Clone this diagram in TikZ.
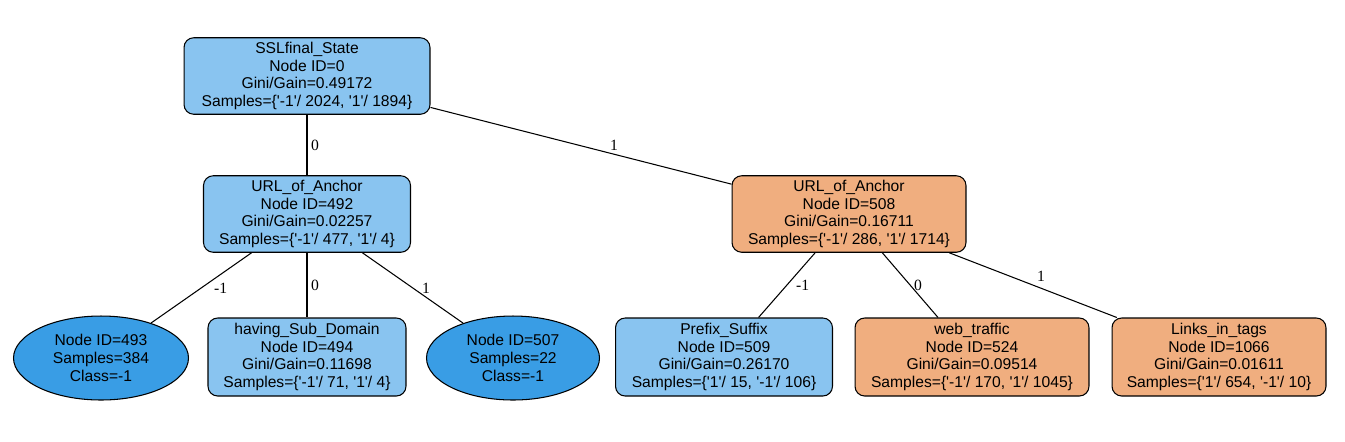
\documentclass[tikz,border=0pt]{standalone}
\usepackage{fontspec}
\newfontfamily\nodefont{Liberation Sans}
\newfontfamily\edgefont{Liberation Serif}
\usepackage{xcolor}
\definecolor{splitblue}{HTML}{89C4F0}
\definecolor{leafblue}{HTML}{399DE5}
\definecolor{splitorange}{HTML}{F0AE7F}
\usepackage{tikz}
\usetikzlibrary{shapes.geometric, positioning}

\begin{document}
\begin{tikzpicture}[x=0.02cm, y=-0.02cm,
  every node/.style={font=\nodefont\fontsize{8.9}{10.1}\selectfont, align=center},
  splitbox/.style={draw, line width=0.6pt, rounded corners=5.5pt, minimum height=1.53cm, inner sep=2pt},
  leafoval/.style={draw, line width=0.6pt, ellipse, fill=leafblue, minimum width=3.5cm, minimum height=1.68cm, inner sep=0pt},
  edgelab/.style={font=\edgefont\fontsize{8.9}{10}\selectfont, inner sep=2pt},
  branch/.style={line width=0.6pt}]

  \useasboundingbox (0,0) rectangle (1345,441);

  % Root
  \node[splitbox, fill=splitblue, minimum width=4.92cm] (root) at (307,76)
    {SSLfinal\_State\\Node ID=0\\Gini/Gain=0.49172\\Samples=\{'-1'/ 2024, '1'/ 1894\}};

  % Second level
  \node[splitbox, fill=splitblue, minimum width=4.14cm] (n492) at (307,214)
    {URL\_of\_Anchor\\Node ID=492\\Gini/Gain=0.02257\\Samples=\{'-1'/ 477, '1'/ 4\}};
  \node[splitbox, fill=splitorange, minimum width=4.68cm] (n508) at (849,214)
    {URL\_of\_Anchor\\Node ID=508\\Gini/Gain=0.16711\\Samples=\{'-1'/ 286, '1'/ 1714\}};

  % Third level, left
  \node[leafoval] (n493) at (101,358) {Node ID=493\\Samples=384\\Class=-1};
  \node[splitbox, fill=splitblue, minimum width=3.96cm, minimum height=1.56cm] (n494) at (307,357)
    {having\_Sub\_Domain\\Node ID=494\\Gini/Gain=0.11698\\Samples=\{'-1'/ 71, '1'/ 4\}};
  \node[leafoval, minimum width=3.46cm] (n507) at (513,358) {Node ID=507\\Samples=22\\Class=-1};

  % Third level, right
  \node[splitbox, fill=splitblue, minimum width=4.34cm, minimum height=1.56cm] (n509) at (724,357)
    {Prefix\_Suffix\\Node ID=509\\Gini/Gain=0.26170\\Samples=\{'1'/ 15, '-1'/ 106\}};
  \node[splitbox, fill=splitorange, minimum width=4.68cm, minimum height=1.56cm] (n524) at (972,357)
    {web\_traffic\\Node ID=524\\Gini/Gain=0.09514\\Samples=\{'-1'/ 170, '1'/ 1045\}};
  \node[splitbox, fill=splitorange, minimum width=4.28cm, minimum height=1.56cm] (n1066) at (1219,357)
    {Links\_in\_tags\\Node ID=1066\\Gini/Gain=0.01611\\Samples=\{'1'/ 654, '-1'/ 10\}};

  % Branches
  \draw[branch] (root) -- node[edgelab, midway, right] {0} (n492);
  \draw[branch] (root) -- node[edgelab, pos=0.61, above] {1} (n508);
  \draw[branch] (n492) -- node[edgelab, midway, right=5pt] {-1} (n493);
  \draw[branch] (n492) -- node[edgelab, midway, right] {0} (n494);
  \draw[branch] (n492) -- node[edgelab, midway, right=3pt] {1} (n507);
  \draw[branch] (n508) -- node[edgelab, midway, right=3pt] {-1} (n509);
  \draw[branch] (n508) -- node[edgelab, midway, right] {0} (n524);
  \draw[branch] (n508) -- node[edgelab, midway, above right] {1} (n1066);
\end{tikzpicture}
\end{document}
